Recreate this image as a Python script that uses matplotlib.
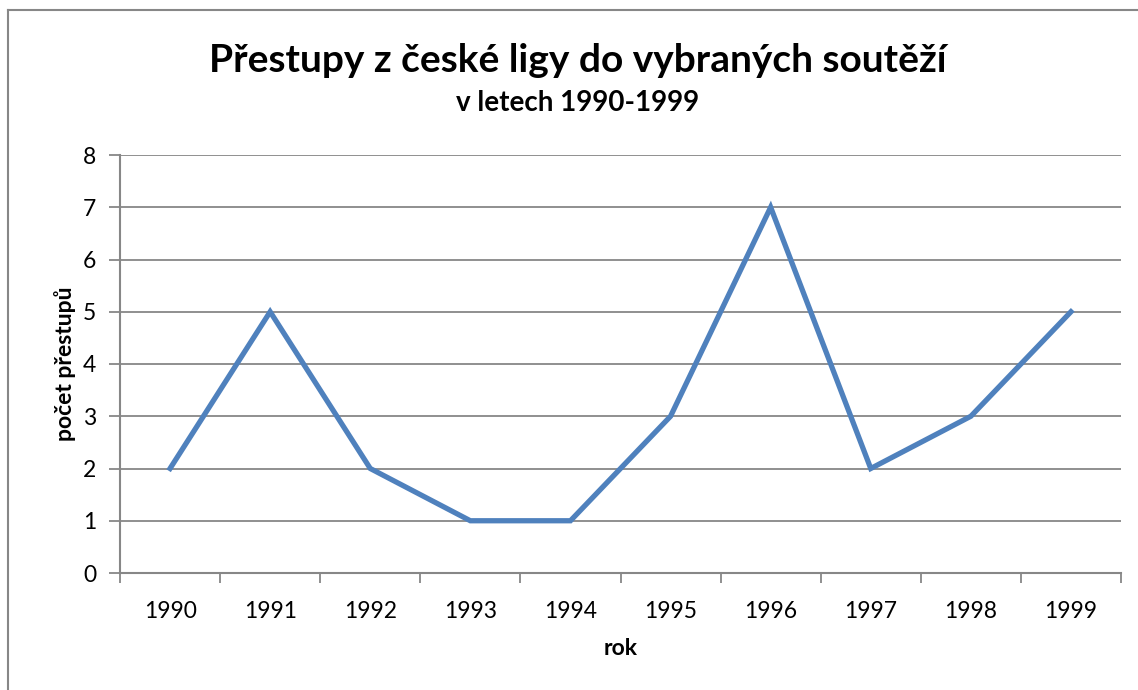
import matplotlib.pyplot as plt
from matplotlib.lines import Line2D

years = ["1990", "1991", "1992", "1993", "1994", "1995", "1996", "1997", "1998", "1999"]
transfers = [2, 5, 2, 1, 1, 3, 7, 2, 3, 5]

plt.rcParams["font.family"] = ["Lato", "DejaVu Sans"]

grey = "#878787"
blue = "#4F81BD"

fig = plt.figure(figsize=(11.38, 6.9), dpi=100)
ax = fig.add_axes([120 / 1138, 117 / 690, 1001 / 1138, 418 / 690])

x = list(range(len(years)))
ax.plot(x, transfers, color=blue, linewidth=3.8, solid_joinstyle="miter", zorder=3)

ax.set_xlim(-0.5, len(years) - 0.5)
ax.set_ylim(0, 8)
ax.set_yticks(range(0, 9))
ax.set_xticks(x)
ax.set_xticklabels(years)
ax.set_xticks([i - 0.5 for i in range(len(years) + 1)], minor=True)

ax.grid(axis="y", color=grey, linewidth=1.3)
ax.set_axisbelow(True)
for side in ["top", "right"]:
    ax.spines[side].set_visible(False)
for side in ["left", "bottom"]:
    ax.spines[side].set_color(grey)
    ax.spines[side].set_linewidth(1.5)

ax.tick_params(axis="y", which="major", length=8, width=1.3, color=grey,
               labelsize=16.5, pad=9)
ax.tick_params(axis="x", which="major", length=0, labelsize=16.5, pad=20)
ax.tick_params(axis="x", which="minor", length=7, width=1.3, color=grey)

ax.set_xlabel("rok", fontsize=16.5, fontweight="bold", labelpad=12)
ax.set_ylabel("počet přestupů", fontsize=16.5, fontweight="bold", labelpad=5)

fig.text(578 / 1138, 1 - 60 / 690, "Přestupy z české ligy do vybraných soutěží",
         ha="center", va="center", fontsize=28, fontweight="bold")
fig.text(578 / 1138, 1 - 103 / 690, "v letech 1990-1999",
         ha="center", va="center", fontsize=20, fontweight="bold")

# chart frame (left and top edges visible)
fig.add_artist(Line2D([8 / 1138, 8 / 1138], [0, 1 - 10 / 690], color=grey,
                      linewidth=1.5, transform=fig.transFigure))
fig.add_artist(Line2D([8 / 1138, 1], [1 - 10 / 690, 1 - 10 / 690], color=grey,
                      linewidth=1.5, transform=fig.transFigure))

fig.savefig("out.png", dpi=100)
